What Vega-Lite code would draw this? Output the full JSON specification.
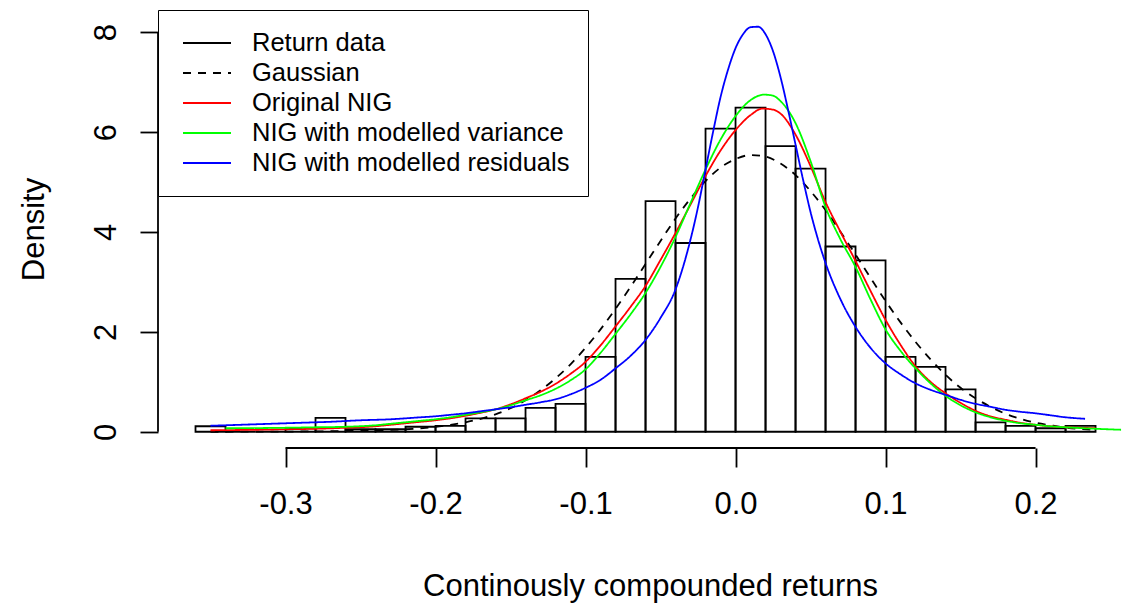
{
  "$schema": "https://vega.github.io/schema/vega-lite/v6.json",
  "width": 965,
  "height": 438,
  "autosize": {"type": "none"},
  "padding": {"left": 158, "top": 10, "right": 2, "bottom": 155},
  "background": "white",
  "config": {
    "view": {"stroke": null},
    "font": "Liberation Sans",
    "axis": {
      "labelFont": "Liberation Sans",
      "titleFont": "Liberation Sans",
      "labelColor": "black",
      "titleColor": "black",
      "tickColor": "black",
      "tickWidth": 1.8,
      "labelFontSize": 31,
      "titleFontSize": 31,
      "titleFontWeight": "normal",
      "grid": false,
      "domain": false
    },
    "legend": {
      "labelFont": "Liberation Sans",
      "labelFontSize": 25.5,
      "labelColor": "black",
      "labelLimit": 500
    }
  },
  "datasets": {
    "hist": [
      {"x": -0.36, "x2": -0.34, "y": 0.11},
      {"x": -0.34, "x2": -0.32, "y": 0},
      {"x": -0.32, "x2": -0.30, "y": 0},
      {"x": -0.30, "x2": -0.28, "y": 0.07},
      {"x": -0.28, "x2": -0.26, "y": 0.28},
      {"x": -0.26, "x2": -0.24, "y": 0.05},
      {"x": -0.24, "x2": -0.22, "y": 0.05},
      {"x": -0.22, "x2": -0.20, "y": 0.10},
      {"x": -0.20, "x2": -0.18, "y": 0.12},
      {"x": -0.18, "x2": -0.16, "y": 0.27},
      {"x": -0.16, "x2": -0.14, "y": 0.27},
      {"x": -0.14, "x2": -0.12, "y": 0.48},
      {"x": -0.12, "x2": -0.10, "y": 0.56},
      {"x": -0.10, "x2": -0.08, "y": 1.50},
      {"x": -0.08, "x2": -0.06, "y": 3.06},
      {"x": -0.06, "x2": -0.04, "y": 4.62},
      {"x": -0.04, "x2": -0.02, "y": 3.78},
      {"x": -0.02, "x2": 0.00, "y": 6.07},
      {"x": 0.00, "x2": 0.02, "y": 6.49},
      {"x": 0.02, "x2": 0.04, "y": 5.72},
      {"x": 0.04, "x2": 0.06, "y": 5.27},
      {"x": 0.06, "x2": 0.08, "y": 3.71},
      {"x": 0.08, "x2": 0.10, "y": 3.43},
      {"x": 0.10, "x2": 0.12, "y": 1.50},
      {"x": 0.12, "x2": 0.14, "y": 1.30},
      {"x": 0.14, "x2": 0.16, "y": 0.85},
      {"x": 0.16, "x2": 0.18, "y": 0.19},
      {"x": 0.18, "x2": 0.20, "y": 0.12},
      {"x": 0.20, "x2": 0.22, "y": 0.07},
      {"x": 0.22, "x2": 0.24, "y": 0.12}
    ],
    "curves": [
      {"s": "Gaussian", "x": -0.35, "y": 0.0},
      {"s": "Gaussian", "x": -0.32, "y": 0.002},
      {"s": "Gaussian", "x": -0.30, "y": 0.004},
      {"s": "Gaussian", "x": -0.28, "y": 0.008},
      {"s": "Gaussian", "x": -0.26, "y": 0.015},
      {"s": "Gaussian", "x": -0.24, "y": 0.028},
      {"s": "Gaussian", "x": -0.22, "y": 0.05},
      {"s": "Gaussian", "x": -0.21, "y": 0.07},
      {"s": "Gaussian", "x": -0.20, "y": 0.10},
      {"s": "Gaussian", "x": -0.19, "y": 0.14},
      {"s": "Gaussian", "x": -0.18, "y": 0.19},
      {"s": "Gaussian", "x": -0.17, "y": 0.26},
      {"s": "Gaussian", "x": -0.16, "y": 0.35},
      {"s": "Gaussian", "x": -0.15, "y": 0.47},
      {"s": "Gaussian", "x": -0.14, "y": 0.63},
      {"s": "Gaussian", "x": -0.13, "y": 0.83},
      {"s": "Gaussian", "x": -0.12, "y": 1.07},
      {"s": "Gaussian", "x": -0.11, "y": 1.35},
      {"s": "Gaussian", "x": -0.10, "y": 1.68},
      {"s": "Gaussian", "x": -0.09, "y": 2.05},
      {"s": "Gaussian", "x": -0.08, "y": 2.46},
      {"s": "Gaussian", "x": -0.07, "y": 2.90},
      {"s": "Gaussian", "x": -0.06, "y": 3.36},
      {"s": "Gaussian", "x": -0.05, "y": 3.82},
      {"s": "Gaussian", "x": -0.04, "y": 4.27},
      {"s": "Gaussian", "x": -0.03, "y": 4.67},
      {"s": "Gaussian", "x": -0.02, "y": 5.02},
      {"s": "Gaussian", "x": -0.01, "y": 5.29},
      {"s": "Gaussian", "x": 0.00, "y": 5.46},
      {"s": "Gaussian", "x": 0.01, "y": 5.54},
      {"s": "Gaussian", "x": 0.02, "y": 5.51},
      {"s": "Gaussian", "x": 0.03, "y": 5.37},
      {"s": "Gaussian", "x": 0.04, "y": 5.14},
      {"s": "Gaussian", "x": 0.05, "y": 4.82},
      {"s": "Gaussian", "x": 0.06, "y": 4.44},
      {"s": "Gaussian", "x": 0.07, "y": 4.00},
      {"s": "Gaussian", "x": 0.08, "y": 3.55},
      {"s": "Gaussian", "x": 0.09, "y": 3.08},
      {"s": "Gaussian", "x": 0.10, "y": 2.62},
      {"s": "Gaussian", "x": 0.11, "y": 2.19},
      {"s": "Gaussian", "x": 0.12, "y": 1.80},
      {"s": "Gaussian", "x": 0.13, "y": 1.45},
      {"s": "Gaussian", "x": 0.14, "y": 1.14},
      {"s": "Gaussian", "x": 0.15, "y": 0.88},
      {"s": "Gaussian", "x": 0.16, "y": 0.67},
      {"s": "Gaussian", "x": 0.17, "y": 0.50},
      {"s": "Gaussian", "x": 0.18, "y": 0.36},
      {"s": "Gaussian", "x": 0.19, "y": 0.26},
      {"s": "Gaussian", "x": 0.20, "y": 0.18},
      {"s": "Gaussian", "x": 0.21, "y": 0.13},
      {"s": "Gaussian", "x": 0.22, "y": 0.085},
      {"s": "Gaussian", "x": 0.23, "y": 0.057},
      {"s": "Gaussian", "x": 0.24, "y": 0.037},

      {"s": "Original NIG", "x": -0.35, "y": 0.03},
      {"s": "Original NIG", "x": -0.32, "y": 0.04},
      {"s": "Original NIG", "x": -0.30, "y": 0.05},
      {"s": "Original NIG", "x": -0.28, "y": 0.06},
      {"s": "Original NIG", "x": -0.26, "y": 0.08},
      {"s": "Original NIG", "x": -0.24, "y": 0.11},
      {"s": "Original NIG", "x": -0.23, "y": 0.14},
      {"s": "Original NIG", "x": -0.22, "y": 0.17},
      {"s": "Original NIG", "x": -0.21, "y": 0.20},
      {"s": "Original NIG", "x": -0.20, "y": 0.23},
      {"s": "Original NIG", "x": -0.19, "y": 0.27},
      {"s": "Original NIG", "x": -0.18, "y": 0.32},
      {"s": "Original NIG", "x": -0.17, "y": 0.38},
      {"s": "Original NIG", "x": -0.16, "y": 0.45},
      {"s": "Original NIG", "x": -0.15, "y": 0.55},
      {"s": "Original NIG", "x": -0.14, "y": 0.67},
      {"s": "Original NIG", "x": -0.13, "y": 0.80},
      {"s": "Original NIG", "x": -0.12, "y": 0.96},
      {"s": "Original NIG", "x": -0.11, "y": 1.16},
      {"s": "Original NIG", "x": -0.10, "y": 1.40},
      {"s": "Original NIG", "x": -0.09, "y": 1.73},
      {"s": "Original NIG", "x": -0.08, "y": 2.11},
      {"s": "Original NIG", "x": -0.07, "y": 2.50},
      {"s": "Original NIG", "x": -0.06, "y": 2.92},
      {"s": "Original NIG", "x": -0.05, "y": 3.44},
      {"s": "Original NIG", "x": -0.04, "y": 3.98},
      {"s": "Original NIG", "x": -0.03, "y": 4.55},
      {"s": "Original NIG", "x": -0.02, "y": 5.12},
      {"s": "Original NIG", "x": -0.01, "y": 5.63},
      {"s": "Original NIG", "x": 0.00, "y": 6.04},
      {"s": "Original NIG", "x": 0.01, "y": 6.34},
      {"s": "Original NIG", "x": 0.018, "y": 6.47},
      {"s": "Original NIG", "x": 0.025, "y": 6.45},
      {"s": "Original NIG", "x": 0.03, "y": 6.37},
      {"s": "Original NIG", "x": 0.04, "y": 5.95},
      {"s": "Original NIG", "x": 0.05, "y": 5.32},
      {"s": "Original NIG", "x": 0.06, "y": 4.60},
      {"s": "Original NIG", "x": 0.07, "y": 4.00},
      {"s": "Original NIG", "x": 0.08, "y": 3.42},
      {"s": "Original NIG", "x": 0.09, "y": 2.82},
      {"s": "Original NIG", "x": 0.10, "y": 2.24},
      {"s": "Original NIG", "x": 0.11, "y": 1.74},
      {"s": "Original NIG", "x": 0.12, "y": 1.31},
      {"s": "Original NIG", "x": 0.13, "y": 1.00},
      {"s": "Original NIG", "x": 0.14, "y": 0.77},
      {"s": "Original NIG", "x": 0.15, "y": 0.58},
      {"s": "Original NIG", "x": 0.16, "y": 0.42},
      {"s": "Original NIG", "x": 0.17, "y": 0.31},
      {"s": "Original NIG", "x": 0.18, "y": 0.24},
      {"s": "Original NIG", "x": 0.19, "y": 0.18},
      {"s": "Original NIG", "x": 0.20, "y": 0.14},
      {"s": "Original NIG", "x": 0.21, "y": 0.11},
      {"s": "Original NIG", "x": 0.22, "y": 0.09},
      {"s": "Original NIG", "x": 0.23, "y": 0.08},
      {"s": "Original NIG", "x": 0.24, "y": 0.07},

      {"s": "NIG with modelled variance", "x": -0.34, "y": 0.07},
      {"s": "NIG with modelled variance", "x": -0.30, "y": 0.08},
      {"s": "NIG with modelled variance", "x": -0.28, "y": 0.09},
      {"s": "NIG with modelled variance", "x": -0.26, "y": 0.10},
      {"s": "NIG with modelled variance", "x": -0.24, "y": 0.13},
      {"s": "NIG with modelled variance", "x": -0.23, "y": 0.16},
      {"s": "NIG with modelled variance", "x": -0.22, "y": 0.19},
      {"s": "NIG with modelled variance", "x": -0.21, "y": 0.22},
      {"s": "NIG with modelled variance", "x": -0.20, "y": 0.25},
      {"s": "NIG with modelled variance", "x": -0.19, "y": 0.29},
      {"s": "NIG with modelled variance", "x": -0.18, "y": 0.34},
      {"s": "NIG with modelled variance", "x": -0.17, "y": 0.39},
      {"s": "NIG with modelled variance", "x": -0.16, "y": 0.45},
      {"s": "NIG with modelled variance", "x": -0.15, "y": 0.53},
      {"s": "NIG with modelled variance", "x": -0.14, "y": 0.63},
      {"s": "NIG with modelled variance", "x": -0.13, "y": 0.73},
      {"s": "NIG with modelled variance", "x": -0.12, "y": 0.86},
      {"s": "NIG with modelled variance", "x": -0.11, "y": 1.03},
      {"s": "NIG with modelled variance", "x": -0.10, "y": 1.25},
      {"s": "NIG with modelled variance", "x": -0.09, "y": 1.58},
      {"s": "NIG with modelled variance", "x": -0.08, "y": 1.96},
      {"s": "NIG with modelled variance", "x": -0.07, "y": 2.35},
      {"s": "NIG with modelled variance", "x": -0.06, "y": 2.78},
      {"s": "NIG with modelled variance", "x": -0.05, "y": 3.30},
      {"s": "NIG with modelled variance", "x": -0.04, "y": 3.90},
      {"s": "NIG with modelled variance", "x": -0.03, "y": 4.58},
      {"s": "NIG with modelled variance", "x": -0.02, "y": 5.25},
      {"s": "NIG with modelled variance", "x": -0.01, "y": 5.85},
      {"s": "NIG with modelled variance", "x": 0.00, "y": 6.32},
      {"s": "NIG with modelled variance", "x": 0.01, "y": 6.64},
      {"s": "NIG with modelled variance", "x": 0.019, "y": 6.75},
      {"s": "NIG with modelled variance", "x": 0.025, "y": 6.73},
      {"s": "NIG with modelled variance", "x": 0.03, "y": 6.62},
      {"s": "NIG with modelled variance", "x": 0.04, "y": 6.18},
      {"s": "NIG with modelled variance", "x": 0.05, "y": 5.42},
      {"s": "NIG with modelled variance", "x": 0.06, "y": 4.50},
      {"s": "NIG with modelled variance", "x": 0.07, "y": 3.85},
      {"s": "NIG with modelled variance", "x": 0.08, "y": 3.30},
      {"s": "NIG with modelled variance", "x": 0.09, "y": 2.65},
      {"s": "NIG with modelled variance", "x": 0.10, "y": 2.05},
      {"s": "NIG with modelled variance", "x": 0.11, "y": 1.62},
      {"s": "NIG with modelled variance", "x": 0.12, "y": 1.27},
      {"s": "NIG with modelled variance", "x": 0.13, "y": 0.97},
      {"s": "NIG with modelled variance", "x": 0.14, "y": 0.72},
      {"s": "NIG with modelled variance", "x": 0.15, "y": 0.53},
      {"s": "NIG with modelled variance", "x": 0.16, "y": 0.39},
      {"s": "NIG with modelled variance", "x": 0.17, "y": 0.29},
      {"s": "NIG with modelled variance", "x": 0.18, "y": 0.22},
      {"s": "NIG with modelled variance", "x": 0.19, "y": 0.17},
      {"s": "NIG with modelled variance", "x": 0.20, "y": 0.14},
      {"s": "NIG with modelled variance", "x": 0.21, "y": 0.11},
      {"s": "NIG with modelled variance", "x": 0.22, "y": 0.09},
      {"s": "NIG with modelled variance", "x": 0.24, "y": 0.06},
      {"s": "NIG with modelled variance", "x": 0.257, "y": 0.04},

      {"s": "NIG with modelled residuals", "x": -0.35, "y": 0.12},
      {"s": "NIG with modelled residuals", "x": -0.33, "y": 0.14},
      {"s": "NIG with modelled residuals", "x": -0.31, "y": 0.16},
      {"s": "NIG with modelled residuals", "x": -0.29, "y": 0.18},
      {"s": "NIG with modelled residuals", "x": -0.27, "y": 0.20},
      {"s": "NIG with modelled residuals", "x": -0.25, "y": 0.23},
      {"s": "NIG with modelled residuals", "x": -0.23, "y": 0.25},
      {"s": "NIG with modelled residuals", "x": -0.21, "y": 0.29},
      {"s": "NIG with modelled residuals", "x": -0.20, "y": 0.31},
      {"s": "NIG with modelled residuals", "x": -0.19, "y": 0.34},
      {"s": "NIG with modelled residuals", "x": -0.18, "y": 0.37},
      {"s": "NIG with modelled residuals", "x": -0.17, "y": 0.41},
      {"s": "NIG with modelled residuals", "x": -0.16, "y": 0.45},
      {"s": "NIG with modelled residuals", "x": -0.15, "y": 0.49},
      {"s": "NIG with modelled residuals", "x": -0.14, "y": 0.54},
      {"s": "NIG with modelled residuals", "x": -0.13, "y": 0.59},
      {"s": "NIG with modelled residuals", "x": -0.12, "y": 0.65},
      {"s": "NIG with modelled residuals", "x": -0.11, "y": 0.75},
      {"s": "NIG with modelled residuals", "x": -0.10, "y": 0.88},
      {"s": "NIG with modelled residuals", "x": -0.09, "y": 1.04},
      {"s": "NIG with modelled residuals", "x": -0.08, "y": 1.27},
      {"s": "NIG with modelled residuals", "x": -0.07, "y": 1.52},
      {"s": "NIG with modelled residuals", "x": -0.06, "y": 1.84},
      {"s": "NIG with modelled residuals", "x": -0.05, "y": 2.28},
      {"s": "NIG with modelled residuals", "x": -0.04, "y": 2.85},
      {"s": "NIG with modelled residuals", "x": -0.035, "y": 3.30},
      {"s": "NIG with modelled residuals", "x": -0.03, "y": 3.85},
      {"s": "NIG with modelled residuals", "x": -0.025, "y": 4.50},
      {"s": "NIG with modelled residuals", "x": -0.02, "y": 5.25},
      {"s": "NIG with modelled residuals", "x": -0.015, "y": 6.00},
      {"s": "NIG with modelled residuals", "x": -0.01, "y": 6.70},
      {"s": "NIG with modelled residuals", "x": -0.005, "y": 7.25},
      {"s": "NIG with modelled residuals", "x": 0.00, "y": 7.68},
      {"s": "NIG with modelled residuals", "x": 0.005, "y": 7.96},
      {"s": "NIG with modelled residuals", "x": 0.01, "y": 8.10},
      {"s": "NIG with modelled residuals", "x": 0.015, "y": 8.11},
      {"s": "NIG with modelled residuals", "x": 0.02, "y": 7.96},
      {"s": "NIG with modelled residuals", "x": 0.025, "y": 7.62},
      {"s": "NIG with modelled residuals", "x": 0.03, "y": 7.10},
      {"s": "NIG with modelled residuals", "x": 0.035, "y": 6.45},
      {"s": "NIG with modelled residuals", "x": 0.04, "y": 5.75},
      {"s": "NIG with modelled residuals", "x": 0.045, "y": 5.05},
      {"s": "NIG with modelled residuals", "x": 0.05, "y": 4.40},
      {"s": "NIG with modelled residuals", "x": 0.055, "y": 3.85},
      {"s": "NIG with modelled residuals", "x": 0.06, "y": 3.38},
      {"s": "NIG with modelled residuals", "x": 0.07, "y": 2.65},
      {"s": "NIG with modelled residuals", "x": 0.08, "y": 2.10},
      {"s": "NIG with modelled residuals", "x": 0.09, "y": 1.68},
      {"s": "NIG with modelled residuals", "x": 0.10, "y": 1.37},
      {"s": "NIG with modelled residuals", "x": 0.11, "y": 1.15},
      {"s": "NIG with modelled residuals", "x": 0.12, "y": 0.97},
      {"s": "NIG with modelled residuals", "x": 0.13, "y": 0.84},
      {"s": "NIG with modelled residuals", "x": 0.14, "y": 0.74},
      {"s": "NIG with modelled residuals", "x": 0.15, "y": 0.64},
      {"s": "NIG with modelled residuals", "x": 0.16, "y": 0.56},
      {"s": "NIG with modelled residuals", "x": 0.17, "y": 0.50},
      {"s": "NIG with modelled residuals", "x": 0.18, "y": 0.44},
      {"s": "NIG with modelled residuals", "x": 0.19, "y": 0.40},
      {"s": "NIG with modelled residuals", "x": 0.20, "y": 0.37},
      {"s": "NIG with modelled residuals", "x": 0.21, "y": 0.33},
      {"s": "NIG with modelled residuals", "x": 0.22, "y": 0.29},
      {"s": "NIG with modelled residuals", "x": 0.233, "y": 0.26}
    ]
  },
  "layer": [
    {
      "data": {"name": "hist"},
      "mark": {"type": "rect", "fill": "white", "fillOpacity": 0, "stroke": "black", "strokeWidth": 1.8},
      "encoding": {
        "x": {
          "field": "x",
          "type": "quantitative",
          "title": "Continously compounded returns",
          "scale": {"domain": [-0.385, 0.2583], "nice": false, "zero": false},
          "axis": {
            "values": [-0.3, -0.2, -0.1, 0, 0.1, 0.2],
            "labelExpr": "replace(format(datum.value, '.1f'), '\u2212', '-')",
            "tickSize": 19,
            "labelPadding": 22,
            "labelFlush": false,
            "labelOverlap": false,
            "titleX": 492,
            "titleY": 147,
            "titleAlign": "center",
            "titleBaseline": "alphabetic"
          }
        },
        "x2": {"field": "x2"},
        "y": {
          "field": "y",
          "type": "quantitative",
          "title": "Density",
          "scale": {"domain": [-0.325, 8.445], "nice": false, "zero": false},
          "axis": {
            "values": [0, 2, 4, 6, 8],
            "tickSize": 18,
            "labelAngle": -90,
            "labelAlign": "center",
            "labelBaseline": "alphabetic",
            "labelPadding": 25,
            "labelFlush": false,
            "titleAngle": -90,
            "titleX": -115,
            "titleY": 219,
            "titleAlign": "center",
            "titleBaseline": "alphabetic"
          }
        },
        "y2": {"datum": 0}
      }
    },
    {
      "data": {"name": "curves"},
      "mark": {"type": "line", "strokeWidth": 1.8, "interpolate": "monotone"},
      "encoding": {
        "x": {"field": "x", "type": "quantitative"},
        "y": {"field": "y", "type": "quantitative"},
        "detail": {"field": "s"},
        "color": {
          "field": "s",
          "type": "nominal",
          "scale": {
            "domain": ["Return data", "Gaussian", "Original NIG", "NIG with modelled variance", "NIG with modelled residuals"],
            "range": ["#000000", "#000000", "#ff0000", "#00ff00", "#0000ff"]
          },
          "legend": {
            "title": null,
            "orient": "top-left",
            "offset": 0,
            "padding": 18,
            "strokeColor": "black",
            "fillColor": "white",
            "symbolType": "stroke",
            "symbolSize": 2304,
            "symbolStrokeWidth": 1.8,
            "symbolOffset": 6,
            "labelOffset": 20,
            "clipHeight": 30,
            "rowPadding": 0
          }
        },
        "strokeDash": {
          "field": "s",
          "type": "nominal",
          "scale": {
            "domain": ["Return data", "Gaussian", "Original NIG", "NIG with modelled variance", "NIG with modelled residuals"],
            "range": [[1, 0], [8, 7], [1, 0], [1, 0], [1, 0]]
          },
          "legend": {
            "title": null,
            "orient": "top-left",
            "offset": 0,
            "padding": 18,
            "strokeColor": "black",
            "fillColor": "white",
            "symbolType": "stroke",
            "symbolSize": 2304,
            "symbolStrokeWidth": 1.8,
            "symbolOffset": 6,
            "labelOffset": 20,
            "clipHeight": 30,
            "rowPadding": 0
          }
        }
      }
    },
    {
      "data": {"values": [{}]},
      "mark": {"type": "rule", "color": "black", "strokeWidth": 1.8},
      "encoding": {
        "x": {"datum": -0.3},
        "x2": {"datum": 0.2},
        "y": {"datum": -0.325}
      }
    },
    {
      "data": {"values": [{}]},
      "mark": {"type": "rule", "color": "black", "strokeWidth": 1.8},
      "encoding": {
        "x": {"datum": -0.385},
        "y": {"datum": 0},
        "y2": {"datum": 8}
      }
    }
  ]
}
